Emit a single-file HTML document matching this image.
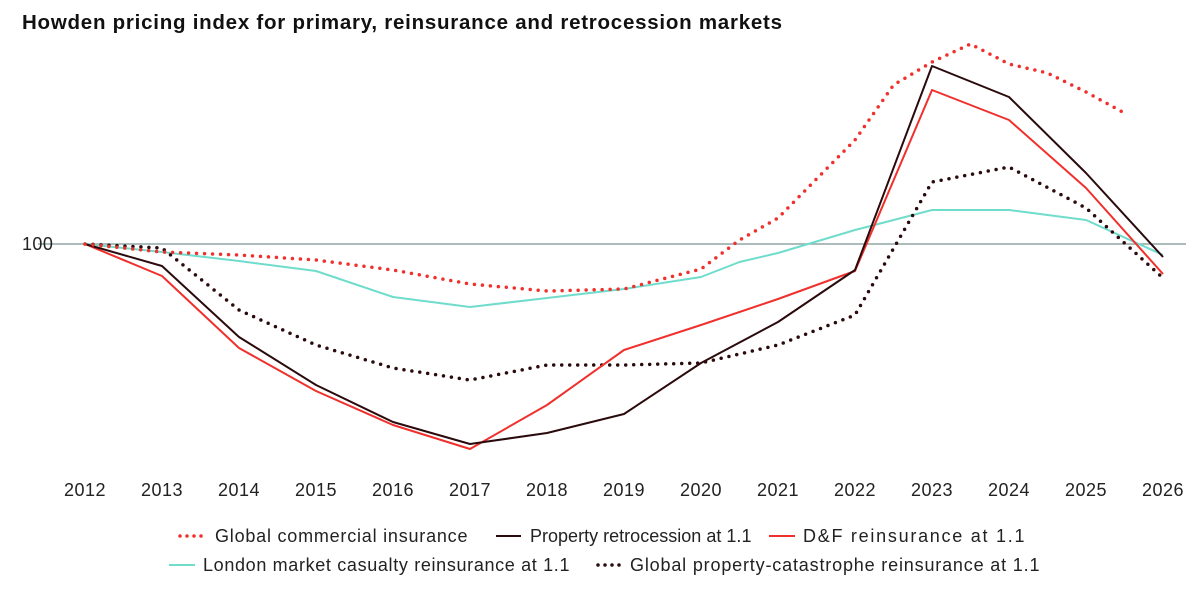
<!DOCTYPE html>
<html><head><meta charset="utf-8"><style>
body{margin:0;background:#fff;font-family:"Liberation Sans",sans-serif;}
svg text{font-family:"Liberation Sans",sans-serif;}
</style></head><body>
<svg id="chart" width="1200" height="589" viewBox="0 0 1200 589">
<text x="22" y="29" font-size="20.5" font-weight="bold" letter-spacing="0.75" fill="#111">Howden pricing index for primary, reinsurance and retrocession markets</text>
<line x1="38" y1="244" x2="1186" y2="244" stroke="#8fa6a4" stroke-width="1.5"/>
<text x="22" y="250" font-size="18" letter-spacing="0.4" fill="#222">100</text>
<g id="xticks"></g>
<g id="series"></g>
<g font-size="18" letter-spacing="0.55">
 <g><line x1="180" y1="536" x2="206" y2="536" stroke="#f0302c" stroke-width="3.5" stroke-dasharray="0,7" stroke-linecap="round"/><text x="215" y="542" fill="#222" textLength="253">Global commercial insurance</text></g>
 <g><line x1="496" y1="536" x2="521" y2="536" stroke="#2a0a0c" stroke-width="2"/><text x="530" y="542" fill="#222" textLength="222">Property retrocession at 1.1</text></g>
 <g><line x1="769" y1="536" x2="795" y2="536" stroke="#f0302c" stroke-width="2"/><text x="803" y="542" fill="#222" textLength="222">D&amp;F reinsurance at 1.1</text></g>
 <g><line x1="169" y1="565" x2="195" y2="565" stroke="#6fdccc" stroke-width="2"/><text x="203" y="571" fill="#222" textLength="367">London market casualty reinsurance at 1.1</text></g>
 <g><line x1="598" y1="565" x2="622" y2="565" stroke="#2a0a0c" stroke-width="3.5" stroke-dasharray="0,7" stroke-linecap="round"/><text x="630" y="571" fill="#222" textLength="410">Global property-catastrophe reinsurance at 1.1</text></g>
</g>
</svg>
<script>
const tickYears=[2012,2013,2014,2015,2016,2017,2018,2019,2020,2021,2022,2023,2024,2025,2026];
const commYears=[2012,2013,2014,2015,2016,2017,2018,2019,2020,2020.5,2021,2022,2022.5,2023,2023.5,2024,2024.5,2025,2025.5];
const commValues=[100,98,97.25,96,93.5,90,88.25,88.75,93.75,101,106.5,126,139.75,145.5,150,145,142.75,138,132.75];
const retroValues=[100,94.5,76.75,64.75,55.5,50,52.75,57.5,70.25,80.5,93.5,144.5,136.75,117.75,96.75];
const dfValues=[100,92,74,63.25,54.75,48.75,59.75,73.5,79.75,86.25,93.25,138.5,131,114,92.5];
const londonYears=[2012,2013,2014,2015,2016,2017,2018,2019,2020,2020.5,2021,2022,2023,2024,2025,2026];
const londonValues=[100,98,95.75,93.25,86.75,84.25,86.5,88.75,91.75,95.5,97.75,103.5,108.5,108.5,106,97.25];
const catValues=[100,99,83.5,74.75,69,66,69.75,69.75,70.25,74.75,82.25,115.5,119.25,109,91.5];

const NS="http://www.w3.org/2000/svg";
const x=y=>85+(y-2012)*77;
const yS=v=>244-(v-100)*4;
const xt=document.getElementById('xticks');
tickYears.forEach(yr=>{
 const t=document.createElementNS(NS,'text');
 t.setAttribute('x',x(yr));t.setAttribute('y',496);t.setAttribute('font-size','18');
 t.setAttribute('letter-spacing','0.5');
 t.setAttribute('text-anchor','middle');t.setAttribute('fill','#222');t.textContent=yr;
 
 
 xt.appendChild(t);
});
const sg=document.getElementById('series');
function draw(years,vals,color,dotted,name){
 const p=document.createElementNS(NS,'polyline');
 p.setAttribute('points',vals.map((v,i)=>x(years[i])+','+yS(v)).join(' '));
 p.setAttribute('fill','none');p.setAttribute('stroke',color);
 p.setAttribute('stroke-width',dotted?3.5:2);
 if(dotted){p.setAttribute('stroke-dasharray','0,8');p.setAttribute('stroke-linecap','round');}
 p.setAttribute('stroke-linejoin','round');
 
 
 sg.appendChild(p);
}
draw(londonYears,londonValues,'#6fdccc',false,'line-london-casualty');
draw(tickYears,catValues,'#2a0a0c',true,'line-property-cat');
draw(tickYears,dfValues,'#f0302c',false,'line-df-reinsurance');
draw(tickYears,retroValues,'#2a0a0c',false,'line-property-retro');
draw(commYears,commValues,'#f0302c',true,'line-global-commercial');
</script>
</body></html>
